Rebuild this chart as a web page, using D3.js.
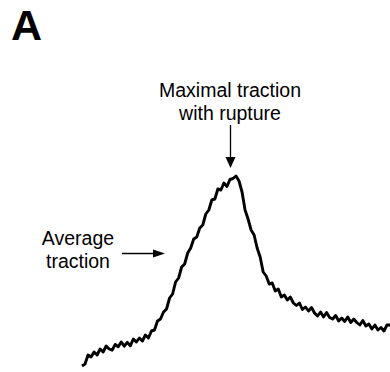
<!DOCTYPE html>
<html><head><meta charset="utf-8">
<script src="https://cdn.jsdelivr.net/npm/d3@7"></script>
<style>body{margin:0;background:#fff}svg{display:block}</style>
</head><body>
<svg id="c" width="390" height="372"></svg>
<script>
// traction trace (arbitrary units), sampled at equal time steps
const traction = [2,3,7.5,6.5,9,7.5,10.5,9,12,10.5,9.9,12.8,11.6,14,11.9,13.8,12.1,15.5,14,16,14.5,17.5,16,19.5,20,24.5,25.5,29,30.5,36,38,44,46,51.5,53,58.5,61,65.5,66.5,71,72.5,78,80,85,85.5,90.5,90,93.5,91.75,95.25,95.75,97,94.5,89,80,75.5,70,67.5,61,56.5,49,47,43,43.5,39.5,40.5,36.5,37.5,35,36.5,33.5,32.25,33.5,30.25,31.5,29.5,31.25,28.5,27,29,26.5,28.75,26.25,25.5,27.25,24.5,26,24.25,26.5,23.75,25.5,23.75,22.5,24.75,22,23,20.5,22.5,20,21.25,19.5,22.5,22.5];
const panelLabel = "A";
const peakLabel = ["Maximal traction","with rupture"];
const avgLabel = ["Average","traction"];

const svg = d3.select("#c");
const x = d3.scaleLinear().domain([0, traction.length-1]).range([82, 390]);
const y = d3.scaleLinear().domain([0, 100]).range([370, 170]);

svg.append("path")
  .datum(traction)
  .attr("fill","none").attr("stroke","#000").attr("stroke-width",2.9)
  .attr("stroke-linejoin","round")
  .attr("d", d3.line().x((d,i)=>x(i)).y(d=>y(d)));

const font = "Liberation Sans, Arial, sans-serif";
svg.append("text").attr("x",11).attr("y",40).attr("font-family",font)
  .attr("font-weight","bold").attr("font-size",43).text(panelLabel);

svg.append("text").attr("font-family",font).attr("font-size",19.5).attr("text-anchor","middle")
  .selectAll("tspan").data(peakLabel).join("tspan")
  .attr("x",230).attr("y",(d,i)=>97+i*22.5).text(d=>d);

svg.append("text").attr("font-family",font).attr("font-size",19.5).attr("text-anchor","middle")
  .selectAll("tspan").data(avgLabel).join("tspan")
  .attr("x",78).attr("y",(d,i)=>245+i*23).text(d=>d);

// arrows
svg.append("line").attr("x1",230.5).attr("y1",125).attr("x2",230.5).attr("y2",160)
  .attr("stroke","#000").attr("stroke-width",1.3);
svg.append("path").attr("d","M225.5,157 L235.5,157 L230.5,168 Z").attr("fill","#000");
svg.append("line").attr("x1",122).attr("y1",253.5).attr("x2",156).attr("y2",253.5)
  .attr("stroke","#000").attr("stroke-width",1.3);
svg.append("path").attr("d","M153,249.5 L153,257.5 L165,253.5 Z").attr("fill","#000");
</script>
</body></html>
